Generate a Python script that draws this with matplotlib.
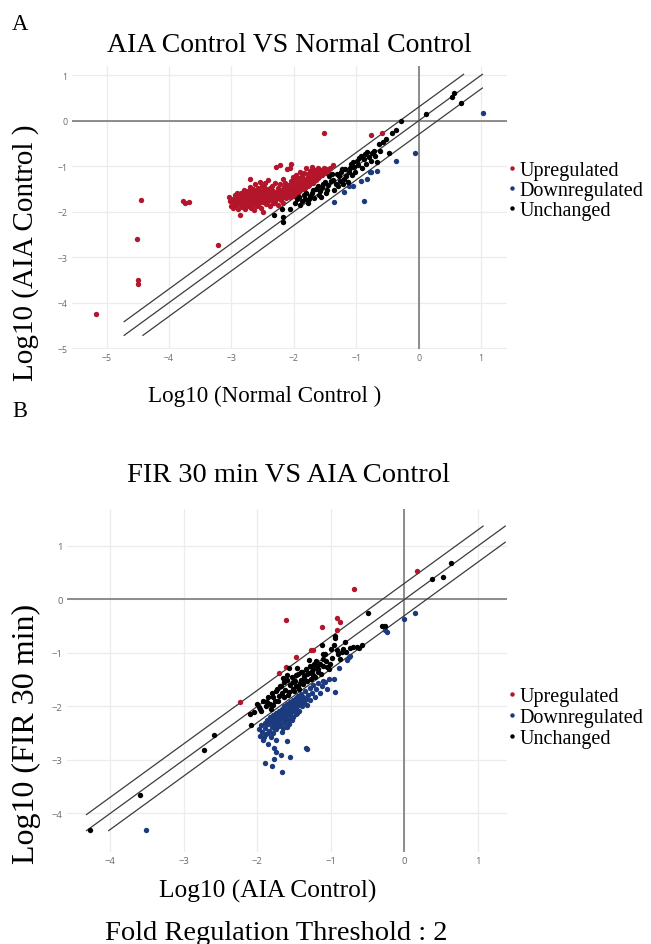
import matplotlib
matplotlib.use("Agg")
import matplotlib.pyplot as plt
from matplotlib.lines import Line2D
import numpy as np

# ---------------- data: panel A (x = Log10 Normal Control, y = Log10 AIA Control)
a_up_x = [-5.17, -4.52, -4.49, -4.50, -4.45, -3.77, -3.74, -3.68, -3.22, -1.52, -0.77, -0.59,
          -3.04, -3.02, -3.01, -2.99, -2.98, -2.97, -2.95, -2.95, -2.93, -2.92, -2.91, -2.90, -2.89,
          -2.88, -2.87, -2.86, -2.85, -2.84, -2.83, -2.82, -2.81, -2.80, -2.79, -2.78, -2.77, -2.76, -2.75, -2.74, -2.73, -2.72, -2.71, -2.70, -2.70,
          -2.69, -2.68, -2.67, -2.66, -2.65, -2.64, -2.64, -2.63, -2.62, -2.61, -2.60, -2.59, -2.58, -2.57, -2.56, -2.55, -2.55, -2.54, -2.53, -2.52, -2.51, -2.50, -2.50,
          -2.49, -2.48, -2.47, -2.46, -2.45, -2.44, -2.43, -2.42, -2.41, -2.40, -2.39, -2.38, -2.37, -2.36, -2.35, -2.34, -2.33, -2.32, -2.31, -2.30,
          -2.29, -2.28, -2.27, -2.26, -2.25, -2.24, -2.23, -2.22, -2.21, -2.20, -2.19, -2.18, -2.17, -2.16, -2.15, -2.14, -2.13, -2.12, -2.11, -2.10,
          -2.09, -2.08, -2.07, -2.06, -2.05, -2.05, -2.04, -2.03, -2.02, -2.01, -2.00, -1.99, -1.98, -1.97, -1.96, -1.95, -1.94, -1.93, -1.92, -1.91, -1.90,
          -1.89, -1.88, -1.87, -1.86, -1.85, -1.84, -1.83, -1.82, -1.81, -1.80, -1.79, -1.78, -1.77, -1.76, -1.75, -1.74, -1.73, -1.72, -1.71, -1.70,
          -1.69, -1.68, -1.67, -1.66, -1.65, -1.64, -1.63, -1.62, -1.61, -1.60, -1.58, -1.57, -1.55, -1.53, -1.52, -1.50, -1.48, -1.45, -1.42, -1.37,
          -2.86, -2.82, -2.79, -2.74, -2.71, -2.67, -2.62, -2.59, -2.56, -2.53, -2.49, -2.46, -2.44, -2.41, -2.38, -2.35, -2.32, -2.29, -2.26, -2.23,
          -2.20, -2.17, -2.14, -2.11, -2.08, -2.04, -2.01, -1.97, -1.94, -1.91, -1.87, -1.84, -1.80, -1.76, -1.73, -1.69, -2.65, -2.58, -2.48, -2.36]
a_up_y = [-4.26, -2.60, -3.51, -3.60, -1.74, -1.76, -1.81, -1.79, -2.74, -0.27, -0.31, -0.26,
          -1.68, -1.76, -1.87, -1.81, -1.72, -1.92, -1.64, -1.78, -1.85, -1.70, -1.58, -1.95, -1.76,
          -1.66, -1.83, -2.08, -1.74, -1.60, -1.89, -1.69, -1.79, -1.52, -1.94, -1.72, -1.84, -1.63, -1.77, -1.55, -1.88, -1.68, -1.45, -1.80, -1.28,
          -1.61, -1.92, -1.73, -1.50, -1.85, -1.96, -1.66, -1.40, -1.78, -1.57, -1.70, -1.87, -1.47, -1.63, -1.81, -1.35, -1.74, -1.55, -1.91, -1.68, -1.44, -1.79, -1.60,
          -2.00, -1.52, -1.72, -1.38, -1.84, -1.64, -1.56, -1.76, -1.31, -1.68, -1.49, -1.88, -1.60, -1.73, -1.43, -1.82, -1.54, -1.66, -1.36, -1.77,
          -1.58, -1.02, -1.70, -1.47, -1.85, -1.62, -0.98, -1.40, -1.74, -1.53, -1.66, -1.29, -1.80, -1.45, -1.59, -1.36, -1.71, -1.50, -1.06, -1.63,
          -1.42, -1.55, -1.03, -1.68, -0.95, -1.33, -1.48, -1.60, -1.24, -1.39, -1.56, -1.66, -1.31, -1.45, -1.19, -1.52, -1.37, -1.60, -1.27, -1.44, -1.12,
          -1.50, -1.34, -1.22, -1.42, -1.50, -1.15, -1.30, -1.47, -1.05, -1.38, -1.26, -1.44, -1.18, -1.33, -1.40, -1.10, -1.23, -1.36, -1.02, -1.29,
          -1.16, -1.33, -1.24, -1.08, -1.30, -1.19, -1.13, -1.27, -1.05, -1.22, -1.15, -1.08, -1.20, -1.12, -1.04, -1.16, -1.07, -1.10, -1.05, -0.98,
          -1.71, -1.62, -1.86, -1.73, -1.58, -1.81, -1.65, -1.76, -1.59, -1.71, -1.66, -1.78, -1.50, -1.62, -1.71, -1.58, -1.80, -1.66, -1.55, -1.72,
          -1.61, -1.52, -1.67, -1.57, -1.47, -1.62, -1.51, -1.58, -1.45, -1.54, -1.40, -1.48, -1.32, -1.42, -1.30, -1.37, -1.55, -1.83, -1.45, -1.50]

a_down_x = [1.03, -0.06, -0.37, -0.67, -0.76, -0.78, -0.83, -0.93, -0.88, -1.05, -1.12, -1.20, -1.35]
a_down_y = [0.17, -0.70, -0.88, -1.10, -1.12, -1.13, -1.28, -1.32, -1.76, -1.44, -1.44, -1.56, -1.78]

a_unch_x = [-2.32, -2.19, -2.18, -2.18, -2.06, -1.95, -1.87, -1.84, -1.76, -1.71, -1.64, -1.60, -1.53, -1.47, -1.41,
            -1.39, -1.33, -1.28, -1.23, -1.20, -1.12, -1.09, -1.04, -0.99, -0.93, -0.88, -0.83, -0.77, -0.72, -0.67,
            -0.64, -0.70, -0.43, -0.48, -0.28, 0.12, 0.54, 0.56, 0.68,
            -1.98, -1.92, -1.90, -1.82, -1.80, -1.78, -1.74, -1.69, -1.67, -1.62, -1.58, -1.56, -1.55, -1.50, -1.49,
            -1.45, -1.43, -1.37, -1.35, -1.31, -1.30, -1.26, -1.25, -1.22, -1.18, -1.16, -1.14, -1.10, -1.07, -1.05,
            -1.02, -0.97, -0.95, -0.91, -0.86, -0.84, -0.80, -0.75, -0.62, -0.58, -0.53, -0.36]
a_unch_y = [-2.08, -1.94, -2.12, -2.23, -1.94, -1.72, -1.76, -1.63, -1.72, -1.59, -1.50, -1.63, -1.39, -1.52, -1.32,
            -1.17, -1.39, -1.21, -1.06, -1.28, -1.13, -0.95, -1.02, -0.88, -0.77, -0.84, -0.69, -0.88, -0.66, -0.91,
            -0.51, -0.77, -0.27, -0.71, 0.00, 0.15, 0.53, 0.62, 0.38,
            -1.80, -1.68, -1.85, -1.72, -1.58, -1.80, -1.66, -1.52, -1.70, -1.44, -1.55, -1.68, -1.45, -1.35, -1.60,
            -1.42, -1.22, -1.30, -1.52, -1.18, -1.44, -1.33, -1.12, -1.40, -1.06, -1.22, -1.35, -1.05, -1.20, -0.90,
            -1.12, -0.98, -0.82, -1.05, -0.74, -0.95, -0.80, -0.70, -0.66, -0.47, -0.41, -0.20]

# ---------------- data: panel B (x = Log10 AIA Control, y = Log10 FIR 30 min)
b_up_x = [0.17, -0.69, -1.61, -1.12, -0.92, -0.87, -0.92, -1.27, -1.24, -1.47, -1.61, -1.71, -2.23]
b_up_y = [0.53, 0.20, -0.39, -0.51, -0.34, -0.43, -0.57, -0.94, -0.94, -1.08, -1.27, -1.37, -1.92]

b_down_x = [-1.98, -1.96, -1.95, -1.93, -1.92, -1.90, -1.89, -1.88, -1.87, -1.86,
            -1.85, -1.84, -1.83, -1.82, -1.81, -1.80, -1.79, -1.78, -1.77, -1.76, -1.75, -1.74, -1.73, -1.72, -1.71, -1.70,
            -1.69, -1.68, -1.67, -1.66, -1.65, -1.64, -1.63, -1.62, -1.61, -1.60, -1.59, -1.58, -1.57, -1.56, -1.55,
            -1.54, -1.53, -1.52, -1.51, -1.50, -1.49, -1.48, -1.47, -1.46, -1.45, -1.44, -1.43, -1.42, -1.41, -1.40,
            -1.39, -1.38, -1.37, -1.35, -1.34, -1.33, -1.31, -1.29, -1.28, -1.26, -1.24, -1.22, -1.20, -1.18, -1.15, -1.12, -1.10, -1.08, -1.05, -1.02,
            -1.80, -1.78, -1.76, -1.74, -1.72, -1.70, -1.68, -1.66, -1.64, -1.62, -1.60, -1.58, -1.56, -1.54, -1.52, -1.50, -1.48, -1.46,
            -1.69, -1.73, -1.77, -1.65, -1.61, -1.57, -1.53, -1.85, -1.91,
            -1.89, -1.80, -1.77, -1.68, -1.75, -1.77, -1.66, -1.56, -1.34, -1.33, -1.60, -1.74,
            -0.96, -0.95, -0.89, -0.78, -0.76, -0.74, -0.26, -0.24, 0.00, 0.14, -3.51]
b_down_y = [-2.42, -2.55, -2.35, -2.48, -2.62, -2.30, -2.40, -2.52, -2.25, -2.70,
            -2.33, -2.45, -2.20, -2.58, -2.28, -2.38, -2.16, -2.50, -2.24, -2.33, -2.12, -2.42, -2.20, -2.29, -2.08, -2.36,
            -2.15, -2.24, -2.04, -2.48, -2.12, -2.30, -2.00, -2.19, -2.08, -2.38, -1.96, -2.14, -2.25, -2.03, -1.92,
            -2.10, -1.98, -2.20, -1.88, -2.05, -1.95, -2.14, -1.84, -2.00, -1.90, -1.80, -2.08, -1.95, -1.86, -1.76,
            -2.00, -1.82, -1.92, -1.72, -1.86, -1.98, -1.78, -1.65, -1.88, -1.74, -1.60, -1.82, -1.68, -1.56, -1.75, -1.62, -1.52, -1.55, -1.67, -1.48,
            -2.22, -2.30, -2.18, -2.26, -2.14, -2.22, -2.10, -2.18, -2.06, -2.28, -2.12, -2.04, -2.16, -1.96, -2.08, -1.92, -2.02, -2.12,
            -2.32, -2.35, -2.40, -2.40, -2.22, -2.32, -2.26, -2.50, -2.58,
            -3.06, -3.11, -2.99, -2.91, -2.85, -2.77, -3.22, -2.94, -2.77, -2.80, -2.64, -2.63,
            -1.48, -1.73, -1.29, -1.14, -1.08, -1.05, -0.58, -0.61, -0.37, -0.26, -4.31]

b_unch_x = [0.63, 0.53, 0.37, -0.50, -0.31, -0.26, -0.65, -0.74, -0.81, -0.83, -0.94, -0.95, -1.00, -1.08, -1.12,
            -1.11, -1.05, -1.19, -1.23, -1.24, -1.30, -1.33, -1.39, -1.46, -1.48, -1.51, -1.57, -1.60, -1.65, -1.69,
            -1.73, -1.78, -1.82, -1.87, -1.96, -1.98, -2.10, -2.09, -2.59, -2.73, -3.60, -4.27,
            -1.42, -1.37, -1.44, -1.51, -1.57, -1.64, -1.72, -1.78, -1.82, -1.24, -1.17, -1.10, -1.01, -0.90, -0.85,
            -2.05, -2.00, -1.95, -1.92, -1.88, -1.85, -1.83, -1.80, -1.76, -1.74, -1.70, -1.68, -1.66, -1.63, -1.62,
            -1.59, -1.58, -1.55, -1.53, -1.50, -1.49, -1.47, -1.45, -1.43, -1.41, -1.40, -1.38, -1.36, -1.34, -1.32,
            -1.30, -1.28, -1.27, -1.25, -1.21, -1.20, -1.18, -1.15, -1.13, -1.10, -1.06, -1.03, -0.98, -0.96, -0.92,
            -0.88, -0.80, -0.70, -0.62, -0.58]
b_unch_y = [0.69, 0.42, 0.38, -0.25, -0.50, -0.49, -0.88, -0.91, -0.79, -0.93, -0.68, -0.73, -0.93, -1.02, -0.86,
            -1.11, -1.27, -1.24, -1.20, -1.30, -1.14, -1.39, -1.36, -1.29, -1.42, -1.55, -1.29, -1.42, -1.47, -1.61,
            -1.68, -1.83, -1.98, -1.92, -2.04, -2.01, -2.14, -2.34, -2.54, -2.81, -3.65, -4.31,
            -1.56, -1.48, -1.61, -1.67, -1.73, -1.83, -1.89, -1.98, -2.04, -1.42, -1.36, -1.24, -1.20, -1.02, -0.99,
            -2.10, -1.95, -2.08, -1.90, -2.00, -1.82, -1.95, -1.75, -1.90, -1.72, -1.80, -1.62, -1.75, -1.55, -1.70,
            -1.50, -1.78, -1.60, -1.45, -1.72, -1.52, -1.62, -1.40, -1.68, -1.50, -1.35, -1.58, -1.44, -1.30, -1.52,
            -1.38, -1.25, -1.48, -1.34, -1.45, -1.15, -1.30, -1.20, -1.40, -1.02, -1.15, -1.30, -1.10, -0.85, -0.95,
            -1.12, -0.98, -0.88, -0.90, -0.85]

ticks_a_x = [-5, -4, -3, -2, -1, 0, 1]
ticks_a_y = [-5, -4, -3, -2, -1, 0, 1]
ticks_b_x = [-4, -3, -2, -1, 0, 1]
ticks_b_y = [-4, -3, -2, -1, 0, 1]
fold_threshold = 2
legend_labels = ["Upregulated", "Downregulated", "Unchanged"]

# ---------------- style
RED = "#b3162a"
BLUE = "#1c3a7e"
BLACK = "#000000"
SERIF = ["Liberation Serif", "DejaVu Serif"]
TICKFONT = ["Open Sans", "DejaVu Sans"]

W, H = 651, 945
fig = plt.figure(figsize=(W / 100, H / 100), dpi=100)


def px_axes(left, top, right, bottom):
    return fig.add_axes([left / W, 1 - bottom / H, (right - left) / W, (bottom - top) / H])


def style_axes(ax, xt, yt, xlim, ylim, box, ticksize):
    ax.set_xlim(*xlim)
    ax.set_ylim(*ylim)
    ax.set_xticks(xt)
    ax.set_yticks(yt)
    for s in ax.spines.values():
        s.set_visible(False)
    ax.grid(True, color="#ececec", linewidth=0.9, zorder=0)
    ax.set_axisbelow(True)
    ax.tick_params(length=0, labelsize=ticksize, labelcolor="#6a6a6a", pad=3.0)
    for lab in ax.get_xticklabels() + ax.get_yticklabels():
        lab.set_family(TICKFONT)
    ax.axhline(0, color="#7a7a7a", linewidth=1.2, zorder=1)
    ax.axvline(0, color="#7a7a7a", linewidth=1.2, zorder=1)
    lo, hi = box
    d = np.log10(fold_threshold)
    for off in (d, 0.0, -d):
        x0 = max(lo, lo - off)
        x1 = min(hi, hi - off)
        ax.plot([x0, x1], [x0 + off, x1 + off], color="#3c3c3c", linewidth=0.9, zorder=2)


def scatter_all(ax, up, down, unch):
    kw = dict(s=15, linewidths=0, zorder=3)
    ax.scatter(up[0], up[1], color=RED, **kw)
    ax.scatter(down[0], down[1], color=BLUE, **kw)
    ax.scatter(unch[0], unch[1], color=BLACK, **kw)


def add_legend(ax, ycenter_px, spacing):
    handles = [Line2D([], [], marker="o", linestyle="none", markersize=3.2, markerfacecolor=c,
                      markeredgewidth=0) for c in (RED, BLUE, BLACK)]
    ax.legend(handles, legend_labels, loc="center left",
              bbox_to_anchor=(508.5 / W, 1 - ycenter_px / H), bbox_transform=fig.transFigure,
              frameon=False, borderpad=0, borderaxespad=0, handlelength=0.3, handletextpad=0.25,
              labelspacing=spacing, prop={"family": SERIF, "size": 14.5})


# Panel A
axA = px_axes(71.7, 66.7, 506.7, 350)
style_axes(axA, ticks_a_x, ticks_a_y, (-5.56, 1.41), (-5.02, 1.21), (-4.72, 1.02), 6.3)
scatter_all(axA, (a_up_x, a_up_y), (a_down_x, a_down_y), (a_unch_x, a_unch_y))
add_legend(axA, 191.6, 0.05)

# Panel B
axB = px_axes(66.7, 510, 506.7, 853)
style_axes(axB, ticks_b_x, ticks_b_y, (-4.59, 1.39), (-4.72, 1.69), (-4.32, 1.37), 6.8)
scatter_all(axB, (b_up_x, b_up_y), (b_down_x, b_down_y), (b_unch_x, b_unch_y))
add_legend(axB, 718.5, 0.09)


def ftext(x, y, s, size, **kw):
    fig.text(x / W, 1 - y / H, s, fontsize=size, family=SERIF, color="black", **kw)


ftext(12, 30, "A", 16.3, ha="left", va="baseline")
ftext(289, 51.7, "AIA Control VS Normal Control", 20.0, ha="center", va="baseline")
ftext(265, 401.7, "Log10 (Normal Control )", 16.6, ha="center", va="baseline")
ftext(26, 253, "Log10 (AIA Control )", 21.0, ha="center", va="center", rotation=90)

ftext(12, 417, "B", 16.3, ha="left", va="baseline")
ftext(288.5, 482.3, "FIR 30 min VS AIA Control", 20.5, ha="center", va="baseline")
ftext(267.5, 898, "Log10 (AIA Control)", 18.3, ha="center", va="baseline")
ftext(26, 734, "Log10 (FIR 30 min)", 23.0, ha="center", va="center", rotation=90)
ftext(276, 940, "Fold Regulation Threshold : %d" % fold_threshold, 20.5, ha="center", va="baseline")

fig.savefig("out.png", dpi=100)
